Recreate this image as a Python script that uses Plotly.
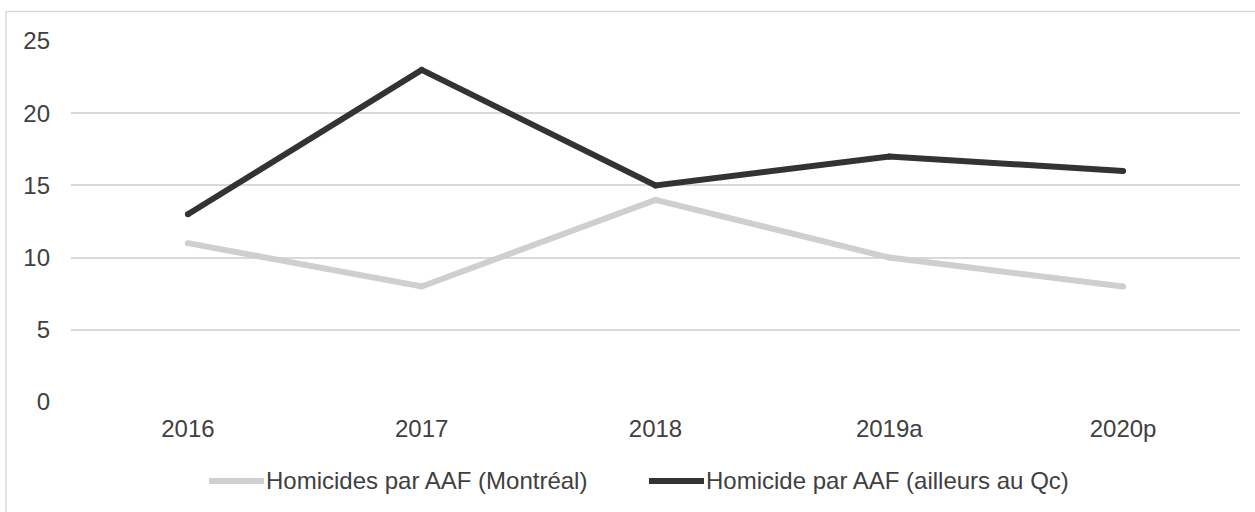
import plotly.graph_objects as go

# Annual counts of firearm homicides
years = ["2016", "2017", "2018", "2019a", "2020p"]
montreal = [11, 8, 14, 10, 8]
ailleurs = [13, 23, 15, 17, 16]
series_names = ["Homicides par AAF (Montréal)", "Homicide par AAF (ailleurs au Qc)"]
y_ticks = [0, 5, 10, 15, 20, 25]

LIGHT = "#cfcfcf"
DARK = "#333333"
TEXT = "#404040"
GRID = "#d9d9d9"
FONT = "Liberation Sans, Arial, sans-serif"
FS = 24

W, H = 1255, 512
ML, MR, MT, MB = 71, 15, 41, 110
PW, PH = W - ML - MR, H - MT - MB


def px_x(px):
    return (px - ML) / PW


def px_y(py):
    return (H - MB - py) / PH


fig = go.Figure()
# small round markers equal to the line width give rounded line ends
for vals, col, name in ((montreal, LIGHT, series_names[0]), (ailleurs, DARK, series_names[1])):
    fig.add_trace(go.Scatter(x=years, y=vals, mode="lines+markers", name=name,
                             line=dict(color=col, width=6),
                             marker=dict(color=col, size=6, line=dict(width=0)),
                             showlegend=False))

shapes = [
    # outer chart frame
    dict(type="rect", xref="paper", yref="paper",
         x0=px_x(6), x1=px_x(1270), y0=px_y(530), y1=px_y(11.5),
         line=dict(color=GRID, width=1.5), fillcolor="rgba(0,0,0,0)", layer="below"),
]

# legend drawn by hand: line sample followed by label
legend_items = [
    (209, 264, 267, LIGHT, series_names[0]),
    (649, 704, 707, DARK, series_names[1]),
]
annotations = []
ly = px_y(481)
for x0, x1, tx, col, label in legend_items:
    shapes.append(dict(type="line", xref="paper", yref="paper",
                       x0=px_x(x0), x1=px_x(x1), y0=ly, y1=ly,
                       line=dict(color=col, width=6)))
    annotations.append(dict(xref="paper", yref="paper", x=px_x(tx), y=ly,
                            text=label, showarrow=False, xanchor="left", yanchor="middle",
                            xshift=-3, font=dict(family=FONT, size=FS, color=TEXT)))

fig.update_layout(
    width=W, height=H,
    margin=dict(l=ML, r=MR, t=MT, b=MB, autoexpand=False),
    paper_bgcolor="white", plot_bgcolor="white",
    font=dict(family=FONT, size=FS, color=TEXT),
    shapes=shapes, annotations=annotations,
    xaxis=dict(type="category", range=[-0.5, len(years) - 0.5], showgrid=False,
               showline=False, zeroline=False, ticks="", ticklabelstandoff=10,
               tickfont=dict(size=FS, color=TEXT)),
    yaxis=dict(range=[0, 25], tickvals=y_ticks, showgrid=True, gridcolor=GRID,
               gridwidth=1.5, zeroline=False, showline=False, ticks="",
               ticklabelstandoff=20, tickfont=dict(size=FS, color=TEXT)),
)

fig.write_html("out.html")
